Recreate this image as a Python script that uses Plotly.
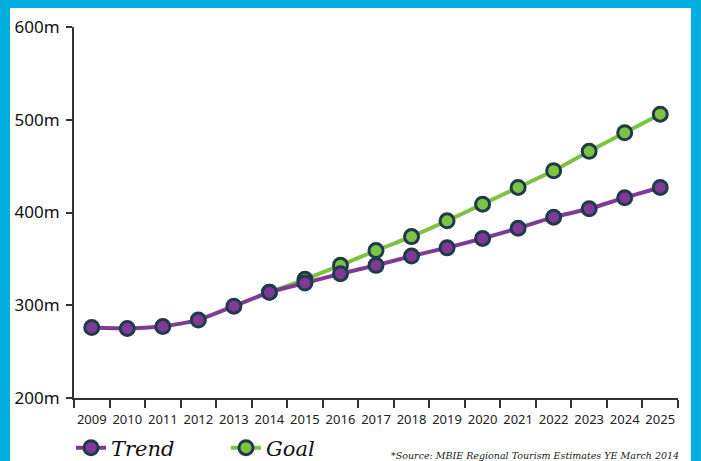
import plotly.graph_objects as go

years = [str(y) for y in range(2009, 2026)]
trend = [276, 275, 277, 284, 299, 314, 324, 334, 343, 353, 362, 372, 383, 395, 404, 416, 427]
goal_years = [str(y) for y in range(2014, 2026)]
goal = [314, 328, 343, 359, 374, 391, 409, 427, 445, 466, 486, 506]
y_ticks = [200, 300, 400, 500, 600]
y_labels = ["200m", "300m", "400m", "500m", "600m"]

PURPLE = "#7F3A96"
GREEN = "#7DC242"
OUTLINE = "#1F3A4A"
BLUE = "#00AEDF"

W, H = 701, 461
ML, MR, MT, MB = 74, 23, 27, 63
PW, PH = W - ML - MR, H - MT - MB


def px_x(p):
    return (p - ML) / PW


def px_y(p):
    return (H - MB - p) / PH


fig = go.Figure()

fig.add_trace(go.Scatter(
    x=goal_years, y=goal, name="Goal", mode="lines+markers",
    line=dict(color=GREEN, width=4, shape="spline", smoothing=0.4),
    marker=dict(size=14, color=GREEN, line=dict(color=OUTLINE, width=3)),
    legendrank=2,
))
fig.add_trace(go.Scatter(
    x=years, y=trend, name="Trend", mode="lines+markers",
    line=dict(color=PURPLE, width=4, shape="spline", smoothing=0.4),
    marker=dict(size=14, color=PURPLE, line=dict(color=OUTLINE, width=3)),
    legendrank=1,
))

label_font = dict(family="DejaVu Serif", size=15, color="#111", weight="bold", style="italic")
fig.add_annotation(x=goal_years[-1], y=goal[-1], text=f"${goal[-1]}m",
                   showarrow=False, yshift=21, font=label_font)
fig.add_annotation(x=years[-1], y=trend[-1], text=f"${trend[-1]}m",
                   showarrow=False, yshift=21, font=label_font)

fig.add_annotation(xref="paper", yref="paper", x=px_x(681), y=px_y(455),
                   xanchor="right", yanchor="middle", showarrow=False,
                   text="*Source: MBIE Regional Tourism Estimates YE March 2014",
                   font=dict(family="DejaVu Serif", size=9.5, color="#222", style="italic"))

# blue frame around the card
frame = [
    (0, 0, 10, H),
    (0, 0, W, 8),
    (691, 0, W, H),
]
for x0, y0, x1, y1 in frame:
    fig.add_shape(type="rect", xref="paper", yref="paper",
                  x0=px_x(x0), x1=px_x(x1), y0=px_y(y1), y1=px_y(y0),
                  fillcolor=BLUE, line=dict(width=0), layer="below")

fig.update_layout(
    width=W, height=H,
    margin=dict(l=ML, r=MR, t=MT, b=MB, autoexpand=False),
    paper_bgcolor="white", plot_bgcolor="white",
    showlegend=True,
    legend=dict(orientation="h", x=px_x(71), y=px_y(448), xanchor="left", yanchor="middle",
                font=dict(family="DejaVu Serif", size=21, color="#111", style="italic"),
                itemwidth=30, entrywidth=110, bgcolor="rgba(0,0,0,0)"),
    xaxis=dict(type="category", categoryorder="array", categoryarray=years,
               range=[-0.5, 16.5], tickson="boundaries", ticks="outside", ticklen=8,
               tickwidth=1.5, tickcolor="#333", showline=True, linecolor="#333", linewidth=2,
               showgrid=False, zeroline=False, tickangle=0, ticklabelstandoff=8,
               tickfont=dict(family="Noto Sans", size=13, color="#222")),
    yaxis=dict(range=[200, 600], tickvals=y_ticks, ticktext=y_labels, ticks="outside",
               ticklen=6, tickwidth=1.5, tickcolor="#333", showline=True, linecolor="#333",
               linewidth=2, showgrid=False, zeroline=False, ticklabelstandoff=3,
               tickfont=dict(family="Noto Sans", size=17, color="#111")),
)

fig.write_html("out.html")
